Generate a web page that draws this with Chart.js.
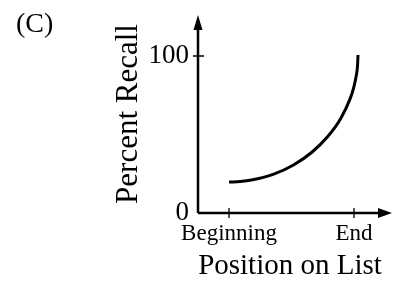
<!DOCTYPE html>
<html lang="en">

<head>
    <meta charset="UTF-8">
    <title>Percent Recall by Position on List</title>
    <script src="https://cdn.jsdelivr.net/npm/chart.js"></script>
    <style>
        body {
            margin: 0;
            background: #ffffff;
            overflow: hidden;
        }

        .container {
            width: 393px;
            height: 284px;
        }
    </style>
</head>

<body>
    <div class="container">
        <canvas id="recallChart" width="393" height="284"></canvas>
    </div>

    <script>
        // values
        const positionValues = [0, 0.090, 0.179, 0.353, 0.516, 0.663, 0.790, 0.894, 0.970, 0.997, 1.016, 1.028, 1.032];
        const recallValues = [19.7, 20.1, 21.0, 24.6, 30.6, 38.7, 48.7, 60.2, 73.0, 79.7, 86.6, 93.6, 100.6];

        const xTickValues = [0, 1];
        const xTickLabels = ['Beginning', 'End'];
        const yTickValues = [0, 100];
        const yTickLabels = ['0', '100'];

        const panelLabel = '(C)';
        const serif = "'Liberation Serif', 'Times New Roman', serif";

        // axis lines with arrows, plus the little crossing ticks
        const axesPlugin = {
            id: 'axes',
            afterDraw(chart) {
                const ctx = chart.ctx;
                const x = chart.scales.x;
                const y = chart.scales.y;
                const area = chart.chartArea;
                const x0 = x.getPixelForValue(x.min);
                const y0 = y.getPixelForValue(0);
                const xTip = area.right + 10; // arrow runs past the plot area

                ctx.save();
                ctx.strokeStyle = '#000';
                ctx.fillStyle = '#000';
                ctx.lineWidth = 2.5;

                ctx.beginPath();
                ctx.moveTo(x0, y0);
                ctx.lineTo(x0, area.top + 12);
                ctx.moveTo(x0, y0);
                ctx.lineTo(xTip - 11, y0);
                ctx.stroke();

                // arrow heads
                ctx.beginPath();
                ctx.moveTo(x0, area.top);
                ctx.lineTo(x0 - 4.5, area.top + 15);
                ctx.lineTo(x0 + 4.5, area.top + 15);
                ctx.closePath();
                ctx.fill();

                ctx.beginPath();
                ctx.moveTo(xTip, y0);
                ctx.lineTo(xTip - 14, y0 - 5);
                ctx.lineTo(xTip - 14, y0 + 5);
                ctx.closePath();
                ctx.fill();

                // ticks
                ctx.lineWidth = 1.3;
                ctx.beginPath();
                xTickValues.forEach(v => {
                    const px = x.getPixelForValue(v);
                    ctx.moveTo(px, y0 - 5);
                    ctx.lineTo(px, y0 + 5);
                });
                yTickValues.forEach(v => {
                    if (v === 0) return;
                    const py = y.getPixelForValue(v);
                    ctx.moveTo(x0 - 5, py);
                    ctx.lineTo(x0 + 6, py);
                });
                ctx.stroke();

                ctx.font = '28px ' + serif;
                ctx.textAlign = 'left';
                ctx.textBaseline = 'alphabetic';
                ctx.fillText(panelLabel, 16, 32);
                ctx.restore();
            }
        };

        const ctx = document.getElementById('recallChart').getContext('2d');

        const recallChart = new Chart(ctx, {
            type: 'line',
            data: {
                datasets: [{
                    data: positionValues.map((p, i) => ({ x: p, y: recallValues[i] })),
                    borderColor: '#000',
                    borderWidth: 3,
                    pointRadius: 0,
                    fill: false,
                    cubicInterpolationMode: 'monotone'
                }]
            },
            options: {
                responsive: false,
                animation: false,
                layout: {
                    padding: { top: 15, right: 11, bottom: 0, left: 0 }
                },
                scales: {
                    x: {
                        type: 'linear',
                        min: -0.248,
                        max: 1.224,
                        grid: { display: false, drawTicks: false },
                        border: { display: false },
                        afterBuildTicks: scale => {
                            scale.ticks = xTickValues.map(v => ({ value: v }));
                        },
                        afterFit: scale => {
                            scale.height = 71;
                            scale.paddingLeft = 0;
                            scale.paddingRight = 0;
                        },
                        ticks: {
                            autoSkip: false,
                            maxRotation: 0,
                            padding: 7,
                            color: '#000',
                            font: { family: serif, size: 23 },
                            callback: (value, index) => xTickLabels[index]
                        },
                        title: {
                            display: true,
                            text: 'Position on List',
                            color: '#000',
                            font: { family: serif, size: 29 },
                            padding: { top: 0, bottom: 0 }
                        }
                    },
                    y: {
                        type: 'linear',
                        min: 0,
                        max: 126.1,
                        grid: { display: false, drawTicks: false },
                        border: { display: false },
                        afterBuildTicks: scale => {
                            scale.ticks = yTickValues.map(v => ({ value: v }));
                        },
                        afterFit: scale => {
                            scale.width = 198;
                            scale.paddingTop = 0;
                            scale.paddingBottom = 0;
                        },
                        ticks: {
                            autoSkip: false,
                            padding: 9,
                            color: '#000',
                            font: { family: serif, size: 27 },
                            callback: (value, index) => yTickLabels[index]
                        },
                        title: {
                            display: true,
                            text: 'Percent Recall',
                            color: '#000',
                            font: { family: serif, size: 31 },
                            padding: { top: 110, bottom: 0 }
                        }
                    }
                },
                plugins: {
                    legend: { display: false },
                    tooltip: { enabled: false }
                }
            },
            plugins: [axesPlugin]
        });
    </script>
</body>

</html>
